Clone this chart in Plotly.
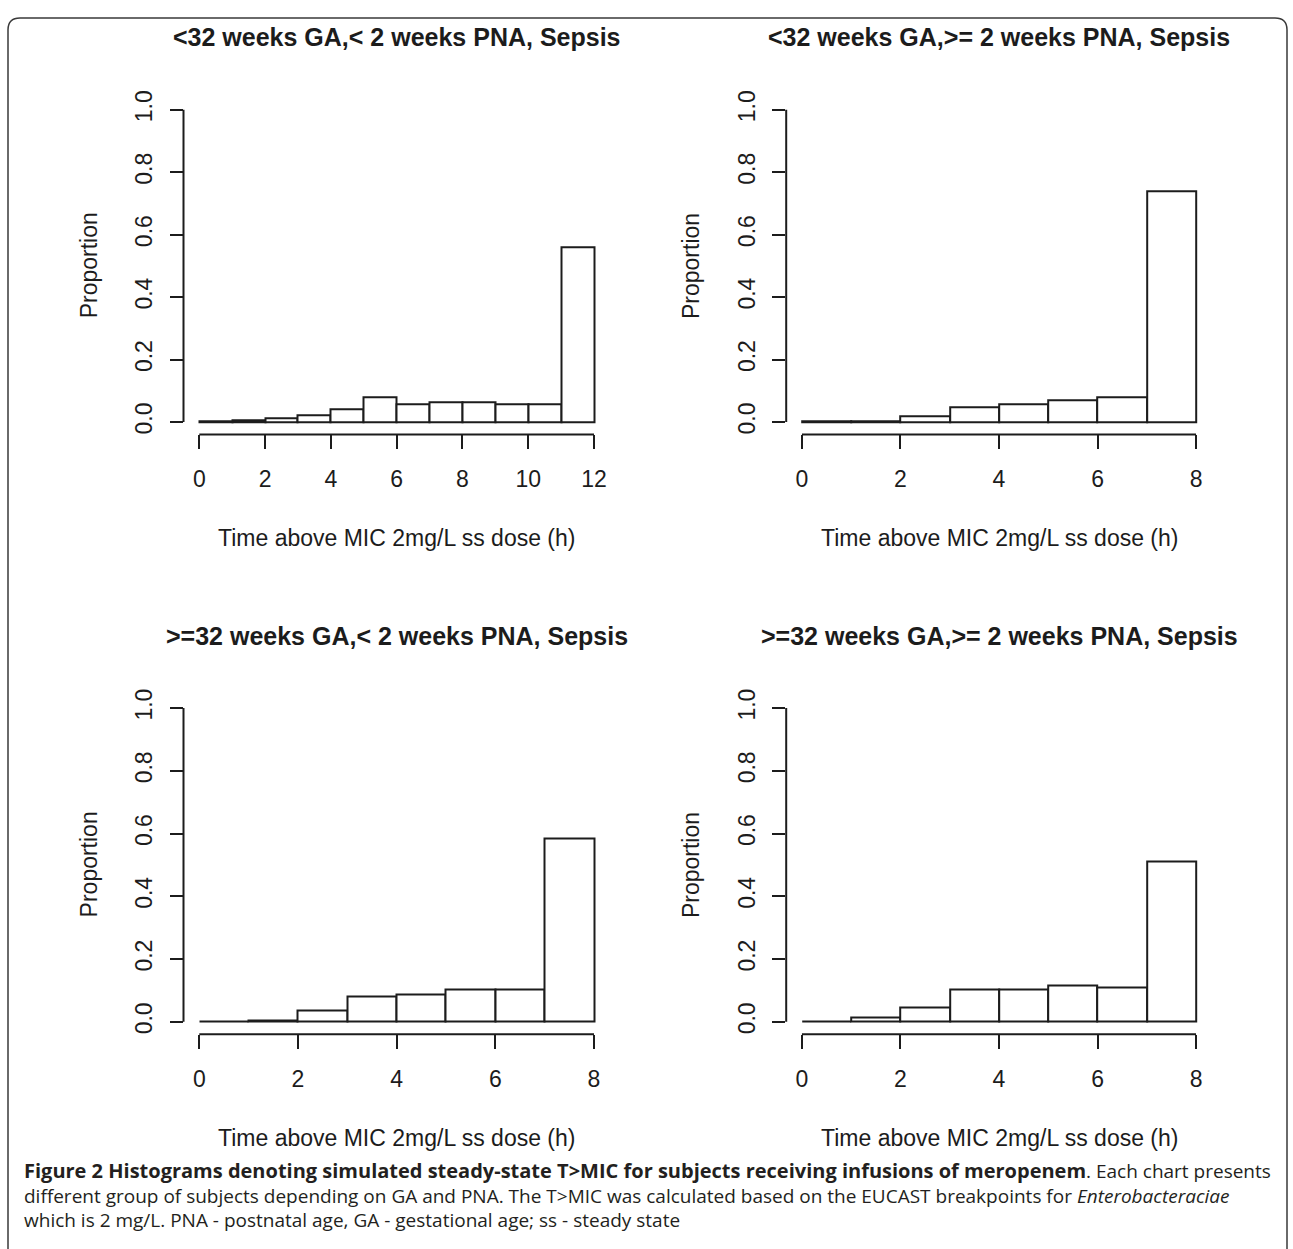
import plotly.graph_objects as go

W, H = 1293, 1249

# ---- data ----
titles = [
    "<32 weeks GA,< 2 weeks PNA, Sepsis",
    "<32 weeks GA,>= 2 weeks PNA, Sepsis",
    ">=32 weeks GA,< 2 weeks PNA, Sepsis",
    ">=32 weeks GA,>= 2 weeks PNA, Sepsis",
]
edges_p1 = [0, 1, 2, 3, 4, 5, 6, 7, 8, 9, 10, 11, 12]
prop_p1 = [0.002, 0.005, 0.012, 0.023, 0.040, 0.081, 0.057, 0.063, 0.063, 0.057, 0.057, 0.561]
edges_p2 = [0, 1, 2, 3, 4, 5, 6, 7, 8]
prop_p2 = [0.004, 0.004, 0.019, 0.047, 0.057, 0.069, 0.080, 0.740]
edges_p3 = [0, 1, 2, 3, 4, 5, 6, 7, 8]
prop_p3 = [0.001, 0.005, 0.035, 0.081, 0.087, 0.103, 0.103, 0.583]
edges_p4 = [0, 1, 2, 3, 4, 5, 6, 7, 8]
prop_p4 = [0.001, 0.012, 0.046, 0.103, 0.103, 0.115, 0.109, 0.512]

x_ticks_12 = [0, 2, 4, 6, 8, 10, 12]
x_ticks_8 = [0, 2, 4, 6, 8]
y_ticks = [0.0, 0.2, 0.4, 0.6, 0.8, 1.0]
y_tick_labels = ["0.0", "0.2", "0.4", "0.6", "0.8", "1.0"]
x_title = "Time above MIC 2mg/L ss dose (h)"
y_title = "Proportion"

caption_lines = [
    "<span style='font-size:20px'><b>Figure 2 Histograms denoting simulated steady-state T>MIC for subjects receiving infusions of meropenem</b></span>. Each chart presents",
    "different group of subjects depending on GA and PNA. The T>MIC was calculated based on the EUCAST breakpoints for <i>Enterobacteraciae</i>",
    "which is 2 mg/L. PNA - postnatal age, GA - gestational age; ss - steady state",
]

panels = [
    (edges_p1, prop_p1, x_ticks_12),
    (edges_p2, prop_p2, x_ticks_8),
    (edges_p3, prop_p3, x_ticks_8),
    (edges_p4, prop_p4, x_ticks_8),
]

# ---- layout geometry ----
xdoms = [[183.5 / W, 609.8 / W], [786.2 / W, 1211.8 / W]]
ydoms = [[1 - 429.9 / H, 1 - 90.7 / H], [1 - 1033.1 / H, 1 - 692.4 / H]]

INK = "#1c1c1c"
FONT = "Liberation Sans, Arial, Helvetica, sans-serif"
AX_SIZE = 23

fig = go.Figure()
layout = dict(
    width=W, height=H,
    margin=dict(l=0, r=0, t=0, b=0),
    paper_bgcolor="white", plot_bgcolor="white",
    showlegend=False,
    font=dict(family=FONT, color=INK, size=AX_SIZE),
)
shapes = []
annotations = []

for i, (edges, prop, xt) in enumerate(panels):
    k = i + 1
    xa = "x" if k == 1 else f"x{k}"
    ya = "y" if k == 1 else f"y{k}"
    centers = [(edges[j] + edges[j + 1]) / 2 for j in range(len(prop))]
    widths = [edges[j + 1] - edges[j] for j in range(len(prop))]
    fig.add_trace(go.Bar(
        x=centers, y=prop, width=widths,
        marker=dict(color="white", line=dict(color=INK, width=2)),
        xaxis=xa, yaxis=ya, hoverinfo="x+y",
    ))
    lo, hi = edges[0], edges[-1]
    pad = 0.04 * (hi - lo)
    row, col = divmod(i, 2)
    layout[f"xaxis{'' if k == 1 else k}"] = dict(
        domain=xdoms[col], anchor=ya, range=[lo - pad, hi + pad],
        showgrid=False, zeroline=False, showline=False,
        ticks="outside", ticklen=14, tickwidth=2, tickcolor=INK,
        tickvals=xt, ticktext=[str(v) for v in xt],
        tickfont=dict(size=AX_SIZE, color=INK), ticklabelstandoff=10,
        fixedrange=True,
    )
    layout[f"yaxis{'' if k == 1 else k}"] = dict(
        domain=ydoms[row], anchor=xa, range=[-0.04, 1.04],
        showgrid=False, zeroline=False, showline=False,
        ticks="outside", ticklen=13, tickwidth=2, tickcolor=INK,
        tickvals=y_ticks, ticktext=y_tick_labels, tickangle=-90,
        tickfont=dict(size=AX_SIZE, color=INK), ticklabelstandoff=8,
        fixedrange=True,
    )
    # R-style axis lines spanning only the tick range
    shapes.append(dict(type="line", xref=f"{xa} domain", yref=ya,
                       x0=0, x1=0, y0=y_ticks[0], y1=y_ticks[-1],
                       line=dict(color=INK, width=2)))
    shapes.append(dict(type="line", xref=xa, yref=f"{ya} domain",
                       x0=xt[0], x1=xt[-1], y0=0, y1=0,
                       line=dict(color=INK, width=2)))
    # panel title
    annotations.append(dict(text=f"<b>{titles[i]}</b>", xref=f"{xa} domain", yref=f"{ya} domain",
                            x=0.5, y=1, yshift=60, showarrow=False, xanchor="center", yanchor="middle",
                            font=dict(size=25, color=INK, family=FONT)))
    # axis titles
    annotations.append(dict(text=x_title, xref=f"{xa} domain", yref=f"{ya} domain",
                            x=0.5, y=0, yshift=-104, showarrow=False, xanchor="center", yanchor="middle",
                            font=dict(size=AX_SIZE, color=INK, family=FONT)))
    annotations.append(dict(text=y_title, xref=f"{xa} domain", yref=f"{ya} domain",
                            x=0, y=0.5, xshift=-95, showarrow=False, xanchor="center", yanchor="middle",
                            textangle=-90, font=dict(size=AX_SIZE, color=INK, family=FONT)))

# caption (one block, three lines)
annotations.append(dict(text="<br>".join(caption_lines), xref="paper", yref="paper",
                        x=22 / W, y=1 - 1195 / H, showarrow=False, xanchor="left", yanchor="middle",
                        align="left",
                        font=dict(size=19, color="#231f20", family="Open Sans, sans-serif")))

# rounded frame
x0, x1, yt, r = 8 / W, 1287 / W, 1 - 11 / H, 12
rx, ry = r / W, r / H
path = (f"M {x0},-0.01 L {x0},{yt - ry} Q {x0},{yt} {x0 + rx},{yt} "
        f"L {x1 - rx},{yt} Q {x1},{yt} {x1},{yt - ry} L {x1},-0.01")
shapes.append(dict(type="path", xref="paper", yref="paper", path=path,
                   line=dict(color="#3a3a3a", width=1.5)))

layout["shapes"] = shapes
layout["annotations"] = annotations
layout["bargap"] = 0
fig.update_layout(**layout)
fig.write_html("out.html", config={"displayModeBar": False},
               post_script="document.body.style.margin='0';")
